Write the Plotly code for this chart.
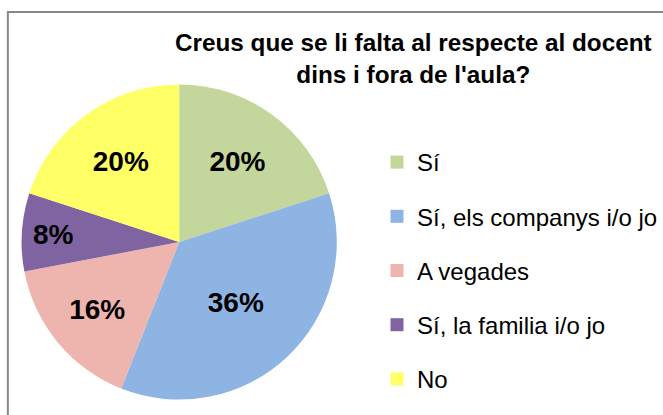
import plotly.graph_objects as go

labels = ["Sí", "Sí, els companys i/o jo", "A vegades", "Sí, la familia i/o jo", "No"]
values = [20, 36, 16, 8, 20]
colors = ["#C3D69B", "#8EB4E3", "#EEB4AE", "#8064A2", "#FFFF66"]

W, H = 663, 415
FONT = "Arial, Liberation Sans, sans-serif"

fig = go.Figure()

# pastís principal (sense llegenda pròpia)
fig.add_trace(go.Pie(labels=labels, values=values, sort=False,
                     direction="clockwise", rotation=0,
                     marker=dict(colors=colors, line=dict(width=0)),
                     texttemplate="<b>%{percent:.0%}</b>",
                     textposition="inside", insidetextorientation="horizontal",
                     textfont=dict(family=FONT, size=28, color="black"),
                     domain=dict(x=[22 / W, 343 / W], y=[1 - 402 / H, 1 - 82 / H]),
                     showlegend=False, hoverinfo="label+percent"))

# llegenda amb traces buides per poder controlar l'espai entre files
for i, (lab, col) in enumerate(zip(labels, colors)):
    fig.add_trace(go.Scatter(x=[None], y=[None], mode="markers", name=lab,
                             marker=dict(symbol="square", size=13, color=col),
                             legendgroup=str(i), showlegend=True))

fig.update_layout(
    width=W, height=H,
    margin=dict(l=0, r=0, t=0, b=0),
    paper_bgcolor="white", plot_bgcolor="white",
    xaxis=dict(visible=False), yaxis=dict(visible=False),
    font=dict(family=FONT, color="black"),
    legend=dict(x=384 / W, y=1 - 140 / H, xanchor="left", yanchor="top",
                font=dict(family=FONT, size=24, color="black"),
                tracegroupgap=20, bgcolor="rgba(0,0,0,0)"),
)

fig.add_annotation(text="<b>Creus que se li falta al respecte al docent<br>dins i fora de l'aula?</b>",
                   x=421 / W, y=1 - 27 / H, xref="paper", yref="paper",
                   xanchor="center", yanchor="top", showarrow=False,
                   font=dict(family=FONT, size=24.3, color="black"))

# marc gris del gràfic
fig.add_shape(type="rect", xref="paper", yref="paper",
              x0=8 / W, x1=1.05, y0=-0.05, y1=1 - 12 / H,
              line=dict(color="#888888", width=2))

# treu el marge per defecte del body perquè la figura comenci a (0, 0)
fig.write_html("out.html", config={"displayModeBar": False},
               post_script="document.body.style.margin='0px';")
